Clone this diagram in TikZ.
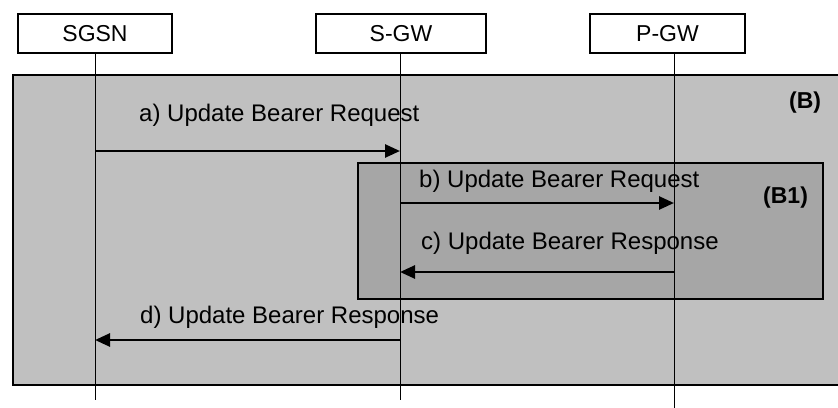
\documentclass[tikz,border=0pt]{standalone}
\usepackage{fontspec}
\setmainfont{Liberation Sans}
\usetikzlibrary{arrows.meta}
\definecolor{outergray}{RGB}{192,192,192}
\definecolor{innergray}{RGB}{166,166,166}

\begin{document}
\begin{tikzpicture}[x=1pt, y=-1pt, font=\fontsize{23}{27}\selectfont,
  entity/.style={draw, line width=1.2pt, fill=white, minimum height=39pt, inner sep=0pt},
  area/.style={draw, line width=1.8pt},
  msg/.style={line width=2.6pt, -{Triangle[length=15pt,width=13pt]}},
  lbl/.style={anchor=base west, inner sep=0pt, font=\fontsize{24}{28}\selectfont}]
\useasboundingbox (0,0) rectangle (838,407);
% areas
\draw[area, fill=outergray] (13,75) rectangle (842,385);
\draw[area, line width=1.5pt, fill=innergray] (358,163) rectangle (823,299);
\node[lbl, font=\fontsize{23}{27}\selectfont\bfseries] (b) at (789,108) {(B)};
\node[lbl, font=\fontsize{23}{27}\selectfont\bfseries] (b1) at (763,203) {(B1)};
% entities
\node[entity, minimum width=154pt] (sgsn) at (95,33.5) {SGSN};
\node[entity, minimum width=170pt] (sgw) at (401,33.5) {S-GW};
\node[entity, minimum width=155pt] (pgw) at (667.5,33.5) {P-GW};
% lifelines
\coordinate (sgsn top) at (95,53);
\coordinate (sgsn end) at (95,400);
\coordinate (sgw top) at (400,53);
\coordinate (sgw end) at (400,400);
\coordinate (pgw top) at (674,53);
\coordinate (pgw end) at (674,408);
\draw[line width=0.8pt] (sgsn top) -- (sgsn end);
\draw[line width=0.8pt] (sgw top) -- (sgw end);
\draw[line width=0.8pt] (pgw top) -- (pgw end);
% messages
\coordinate (a1) at (95,151);  \coordinate (a2) at (400,151);
\coordinate (b1s) at (400,203); \coordinate (b2) at (674,203);
\coordinate (c1) at (674,272); \coordinate (c2) at (400,272);
\coordinate (d1) at (400,340); \coordinate (d2) at (95,340);
\draw[msg] (a1) -- (a2);
\draw[msg] (b1s) -- (b2);
\draw[msg] (c1) -- (c2);
\draw[msg] (d1) -- (d2);
\node[lbl] (la) at (139,121) {a) Update Bearer Request};
\node[lbl] (lb) at (419,187) {b) Update Bearer Request};
\node[lbl] (lc) at (421,249) {c) Update Bearer Response};
\node[lbl] (ld) at (140,323) {d) Update Bearer Response};
\end{tikzpicture}
\end{document}
